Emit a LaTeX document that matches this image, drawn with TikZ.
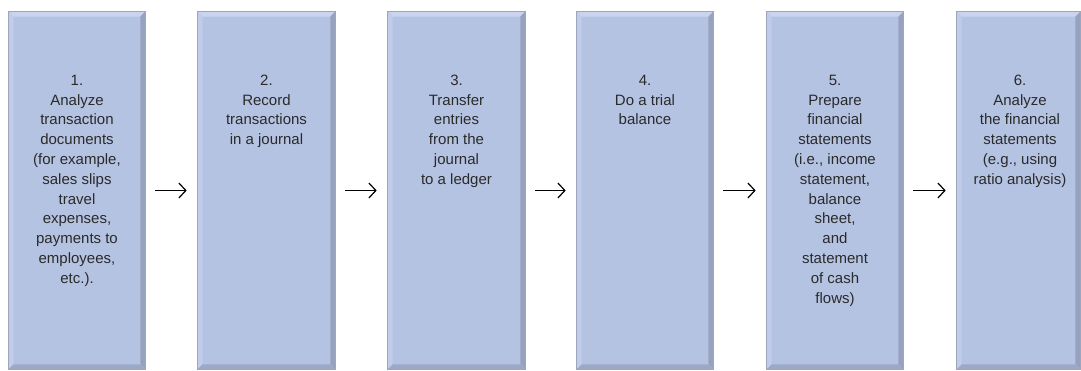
\documentclass[tikz,border=0pt]{standalone}
\usepackage{fontspec}
\setmainfont{Liberation Sans}
\usepackage{tikz}
\usetikzlibrary{positioning}
\usetikzlibrary{arrows.meta}

\definecolor{boxfill}{HTML}{B5C3E3}
\definecolor{boxline}{HTML}{9EA6BB}
\definecolor{bevellight}{HTML}{CAD4EF}
\definecolor{bevelside}{HTML}{C1CCEA}
\definecolor{beveldark}{HTML}{97A2BE}
\definecolor{bevelbottom}{HTML}{9CA8C6}
\definecolor{steptextcol}{HTML}{2A2A2A}

\tikzset{
    stepbox/.style={draw=boxline, fill=boxfill, line width=0.6pt, minimum height=357pt, inner sep=0pt},
    steptext/.style={align=center, inner sep=0pt, text=steptextcol, font=\fontsize{15}{19.8}\selectfont},
    flowarrow/.style={line width=1.2pt, -{Straight Barb[length=7pt, width=15pt, line width=1.2pt]}, shorten <=10pt, shorten >=11pt}
}

\begin{document}
\begin{tikzpicture}[x=1pt, y=1pt]
                \useasboundingbox (0,0) rectangle (1081,371);

                % the six steps
                \node[stepbox, minimum width=136pt] (b1) at (77,180.5) {};
                \node[stepbox, minimum width=137pt] (b2) at (266.5,180.5) {};
                \node[stepbox, minimum width=137pt] (b3) at (456.5,180.5) {};
                \node[stepbox, minimum width=136pt] (b4) at (645,180.5) {};
                \node[stepbox, minimum width=136pt] (b5) at (835,180.5) {};
                \node[stepbox, minimum width=123pt] (b6) at (1018.5,180.5) {};

                % bevelled edges
                \foreach \b in {b1,b2,b3,b4,b5,b6}{
                    \fill[bevellight] (\b.north west) -- (\b.north east) -- ([shift={(-5,-5)}]\b.north east) -- ([shift={(5,-5)}]\b.north west) -- cycle;
                    \fill[bevelside] (\b.north west) -- ([shift={(5,-5)}]\b.north west) -- ([shift={(5,5)}]\b.south west) -- (\b.south west) -- cycle;
                    \fill[beveldark] (\b.north east) -- (\b.south east) -- ([shift={(-5,5)}]\b.south east) -- ([shift={(-5,-5)}]\b.north east) -- cycle;
                    \fill[bevelbottom] (\b.south west) -- ([shift={(5,5)}]\b.south west) -- ([shift={(-5,5)}]\b.south east) -- (\b.south east) -- cycle;
                    \draw[boxline, line width=0.6pt] (\b.north west) rectangle (\b.south east);
                }

                \node[steptext, below=63pt of b1.north] (t1) {1.\\Analyze\\transaction\\documents\\(for example,\\sales slips\\travel\\expenses,\\payments to\\employees,\\etc.).};
                \node[steptext, below=63pt of b2.north] (t2) {2.\\Record\\transactions\\in a journal};
                \node[steptext, below=63pt of b3.north] (t3) {3.\\Transfer\\entries\\from the\\journal\\to a ledger};
                \node[steptext, below=63pt of b4.north] (t4) {4.\\Do a trial\\balance};
                \node[steptext, below=63pt of b5.north] (t5) {5.\\Prepare\\financial\\statements\\(i.e., income\\statement,\\balance\\sheet,\\and\\statement\\of cash\\flows)};
                \node[steptext, below=63pt of b6.north, xshift=1.5pt] (t6) {6.\\Analyze\\the financial\\statements\\(e.g., using\\ratio analysis)};

                % arrows between the steps
                \draw[flowarrow] (b1.east) -- (b2.west);
                \draw[flowarrow] (b2.east) -- (b3.west);
                \draw[flowarrow] (b3.east) -- (b4.west);
                \draw[flowarrow] (b4.east) -- (b5.west);
                \draw[flowarrow] (b5.east) -- (b6.west);
\end{tikzpicture}
\end{document}
